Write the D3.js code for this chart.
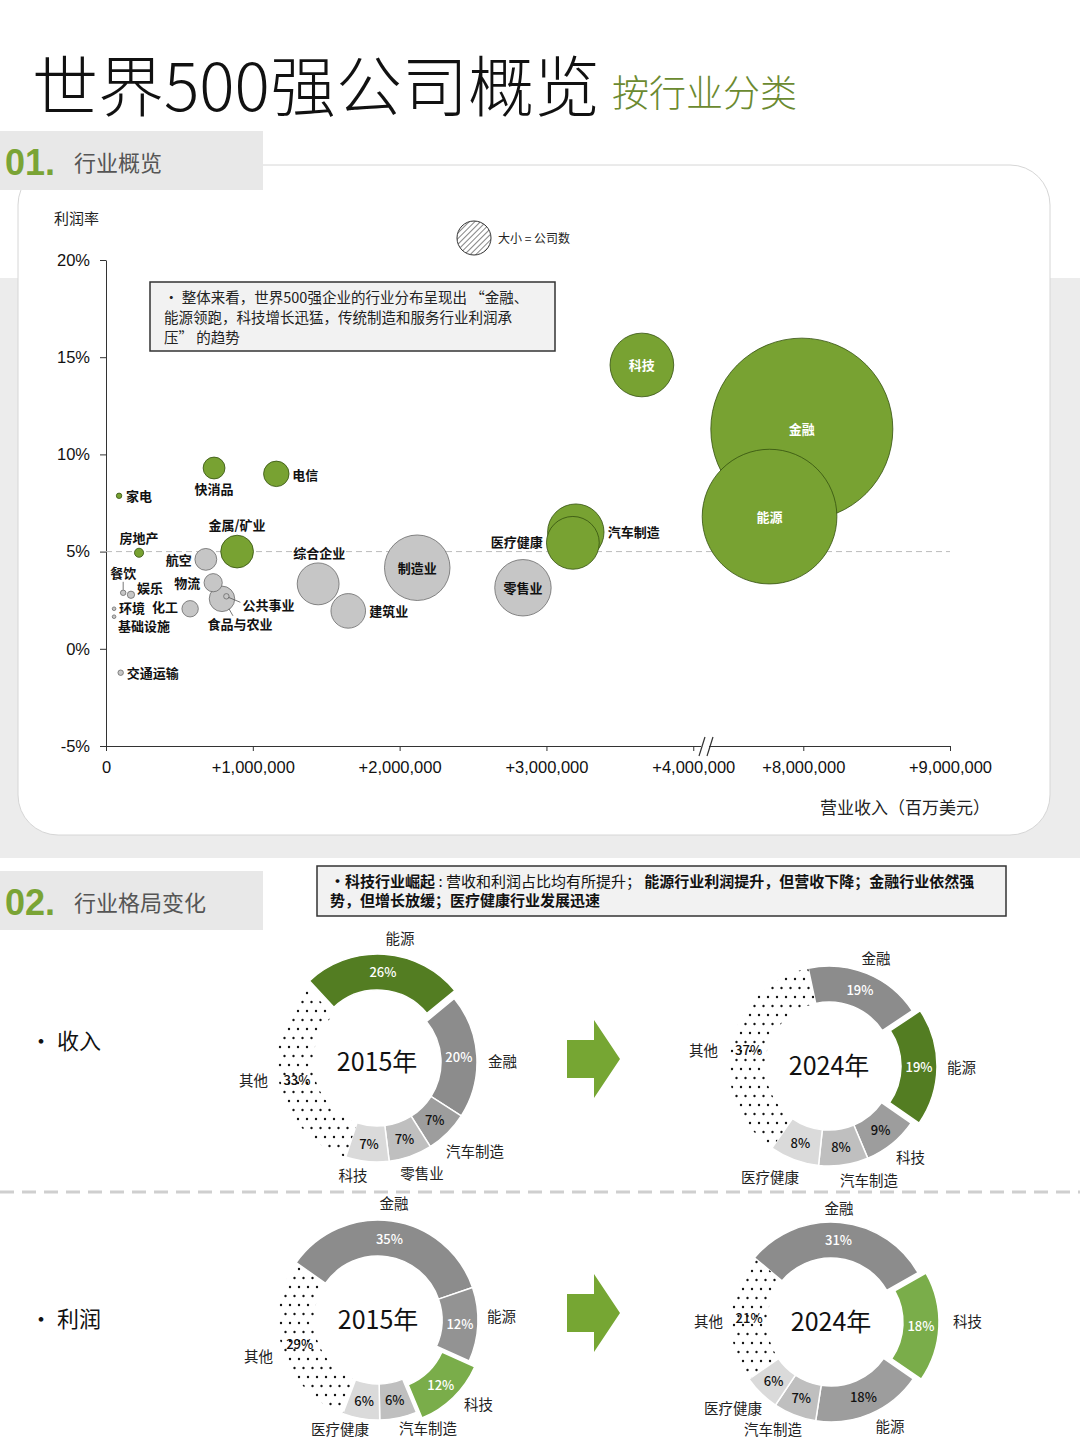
<!DOCTYPE html>
<html>
<head>
<meta charset="utf-8">
<script src="https://cdn.jsdelivr.net/npm/d3@7"></script>
<style>
  body { margin: 0; background: #fff; }
  svg text { font-family: "Noto Sans CJK SC", "Noto Sans", sans-serif; }
</style>
</head>
<body>
<svg id="chart" width="1080" height="1440"></svg>
<script>
// ---- bubble chart data ----
var industries = ["金融", "能源", "科技", "汽车制造", "医疗健康", "零售业", "制造业", "综合企业", "建筑业",
  "金属/矿业", "快消品", "电信", "航空", "物流", "食品与农业", "公共事业", "化工", "房地产", "家电",
  "餐饮", "娱乐", "环境", "基础设施", "交通运输"];
var revenue = [7990000, 7770000, 3650000, 3200000, 3180000, 2840000, 2120000, 1445000, 1650000,
  893000, 736000, 1160000, 680000, 730000, 790000, 820000, 573000, 225000, 89000,
  117000, 170000, 55000, 55000, 100000];
var margin = [11.3, 6.8, 14.6, 6.0, 5.45, 3.14, 4.17, 3.34, 1.95,
  5.0, 9.3, 9.0, 4.6, 3.4, 2.57, 2.7, 2.06, 4.94, 7.87,
  2.88, 2.78, 2.06, 1.65, -1.23];
var companies = [100, 74, 35, 31, 29, 31, 36, 23, 19,
  18, 12, 14, 12, 10, 14, 3, 9, 5, 3,
  3, 4, 2, 2, 3];
var leaders = ["金融", "能源", "科技", "汽车制造", "医疗健康", "金属/矿业", "快消品", "电信", "房地产", "家电"];
var xTicks = [0, 1000000, 2000000, 3000000, 4000000, 8000000, 9000000];
var yTicks = [-5, 0, 5, 10, 15, 20];

// ---- donut data ----
var rev2015Names = ["能源", "金融", "汽车制造", "零售业", "科技", "其他"];
var rev2015Share = [26, 20, 7, 7, 7, 33];
var rev2024Names = ["金融", "能源", "科技", "汽车制造", "医疗健康", "其他"];
var rev2024Share = [19, 19, 9, 8, 8, 37];
var pro2015Names = ["金融", "能源", "科技", "汽车制造", "医疗健康", "其他"];
var pro2015Share = [35, 12, 12, 6, 6, 29];
var pro2024Names = ["金融", "科技", "能源", "汽车制造", "医疗健康", "其他"];
var pro2024Share = [31, 18, 18, 7, 6, 21];

// label placement for bubbles: dx, dy, anchor, colour
var labelSpots = {
  "金融": [0, 5, "middle", "#fff"], "能源": [0, 5, "middle", "#fff"], "科技": [0, 5, "middle", "#fff"],
  "汽车制造": [32, 5, "start"], "医疗健康": [-30, 4, "end"], "零售业": [0, 5, "middle"],
  "制造业": [0, 5, "middle"], "综合企业": [1, -26, "middle"], "建筑业": [21, 5, "start"],
  "金属/矿业": [0, -22, "middle"], "快消品": [0, 26, "middle"], "电信": [16, 6, "start"],
  "航空": [-14, 6, "end"], "物流": [-13, 5, "end"], "食品与农业": [18, 30, "middle"],
  "公共事业": [16, 14, "start"], "化工": [-12, 3, "end"], "房地产": [0, -10, "middle"],
  "家电": [7, 5, "start"], "餐饮": [0, -15, "middle"], "娱乐": [6, -2, "start"],
  "环境": [5, 4, "start"], "基础设施": [4, 14, "start"], "交通运输": [6, 5, "start"]
};

var svg = d3.select("#chart");
var defs = svg.append("defs");

var dots = defs.append("pattern").attr("id", "dots").attr("patternUnits", "userSpaceOnUse")
  .attr("width", 9).attr("height", 18);
dots.append("circle").attr("cx", 2).attr("cy", 3).attr("r", 1.2).attr("fill", "#111");
dots.append("circle").attr("cx", 6.5).attr("cy", 12).attr("r", 1.2).attr("fill", "#111");

var hatch = defs.append("pattern").attr("id", "hatch").attr("patternUnits", "userSpaceOnUse")
  .attr("width", 4).attr("height", 4).attr("patternTransform", "rotate(45)");
hatch.append("rect").attr("width", 4).attr("height", 4).attr("fill", "#fff");
hatch.append("line").attr("x1", 0).attr("y1", 0).attr("x2", 0).attr("y2", 4)
  .attr("stroke", "#333").attr("stroke-width", 1.2);

// ---- background, title, section headers ----
svg.append("rect").attr("x", 0).attr("y", 278).attr("width", 1080).attr("height", 580).attr("fill", "#ececec");
svg.append("rect").attr("x", 18).attr("y", 165).attr("width", 1032).attr("height", 670).attr("rx", 40)
  .attr("fill", "#fff").attr("stroke", "#d6d6d6");

svg.append("text").attr("x", 32).attr("y", 111).style("font-size", "66px").style("font-weight", 300)
  .attr("fill", "#111").text("世界500强公司概览");
svg.append("text").attr("x", 612).attr("y", 107).style("font-size", "37px").style("font-weight", 300)
  .attr("fill", "#6b8a30").text("按行业分类");

function sectionHead(y, num, title) {
  svg.append("rect").attr("x", 0).attr("y", y).attr("width", 263).attr("height", 59).attr("fill", "#e8e8e8");
  svg.append("text").attr("x", 5).attr("y", y + 44)
    .style("font-family", "'Liberation Sans Narrow', 'Liberation Sans', sans-serif")
    .style("font-size", "36px").style("font-weight", 700).attr("fill", "#7aa435").text(num);
  svg.append("text").attr("x", 74).attr("y", y + 40).style("font-size", "22px")
    .attr("fill", "#555").text(title);
}
sectionHead(131, "01.", "行业概览");
sectionHead(871, "02.", "行业格局变化");

// ---- bubble chart ----
var x = d3.scaleLinear().domain([0, 4080000, 7330000, 9000000]).range([106, 705, 705, 950]);
var y = d3.scaleLinear().domain([-5, 20]).range([746, 260]);
var r = d3.scaleLinear().domain([0, 100]).range([0, 91]);

var xAxis = svg.append("g").attr("transform", "translate(0,746)")
  .call(d3.axisBottom(x).tickValues(xTicks).tickSize(5).tickSizeOuter(0).tickPadding(10)
    .tickFormat(function(d) { return d === 0 ? "0" : "+" + d3.format(",")(d); }));
var yAxis = svg.append("g").attr("transform", "translate(106,0)")
  .call(d3.axisLeft(y).tickValues(yTicks).tickSize(6).tickSizeOuter(0).tickPadding(10)
    .tickFormat(function(d) { return d + "%"; }));
[xAxis, yAxis].forEach(function(a) {
  a.selectAll("path, line").attr("stroke", "#333");
  a.selectAll("text").style("font-family", "'Liberation Sans', Arial, sans-serif")
    .style("font-size", "16.5px").attr("fill", "#111");
});

// axis break
svg.append("rect").attr("x", 701).attr("y", 742).attr("width", 8).attr("height", 8).attr("fill", "#fff");
[699, 707].forEach(function(bx) {
  svg.append("line").attr("x1", bx).attr("y1", 756).attr("x2", bx + 6).attr("y2", 737)
    .attr("stroke", "#333").attr("stroke-width", 1.2);
});

// 5% reference line
svg.append("line").attr("x1", 106).attr("x2", 950).attr("y1", y(5)).attr("y2", y(5))
  .attr("stroke", "#bbb").attr("stroke-dasharray", "6,4");

svg.append("text").attr("x", 54).attr("y", 224).style("font-size", "15px").attr("fill", "#222").text("利润率");
svg.append("text").attr("x", 990).attr("y", 814).attr("text-anchor", "end").style("font-size", "17px")
  .attr("fill", "#222").text("营业收入（百万美元）");

svg.append("circle").attr("cx", 474).attr("cy", 238).attr("r", 17).attr("fill", "url(#hatch)")
  .attr("stroke", "#333").attr("stroke-width", 1);
svg.append("text").attr("x", 498).attr("y", 243).style("font-size", "12px").attr("fill", "#222")
  .text("大小 = 公司数");

// note box
svg.append("rect").attr("x", 150).attr("y", 282).attr("width", 405).attr("height", 69)
  .attr("fill", "#f2f2f2").attr("stroke", "#333").attr("stroke-width", 1.5);
["• 整体来看，世界500强企业的行业分布呈现出 “金融、", "能源领跑，科技增长迅猛，传统制造和服务行业利润承", "压” 的趋势"]
  .forEach(function(t, i) {
    svg.append("text").attr("x", 164).attr("y", 303 + i * 20).style("font-size", "14.5px")
      .attr("fill", "#222").text(t);
  });

var bubbles = industries.map(function(n, i) {
  return { name: n, rev: revenue[i], m: margin[i], c: companies[i], lead: leaders.indexOf(n) >= 0 };
}).sort(function(a, b) { return b.c - a.c; });

svg.append("g").selectAll("circle").data(bubbles).enter().append("circle")
  .attr("cx", function(d) { return x(d.rev); })
  .attr("cy", function(d) { return y(d.m); })
  .attr("r", function(d) { return r(d.c); })
  .attr("fill", function(d) { return d.lead ? "#78a232" : "#c6c6c6"; })
  .attr("stroke", function(d) { return d.lead ? "#34500f" : "#6a6a6a"; })
  .attr("stroke-width", 0.8);

// leader lines for small bubbles
function leader(name, x1, y1, x2, y2) {
  var i = industries.indexOf(name);
  var cx = x(revenue[i]), cy = y(margin[i]);
  svg.append("line").attr("x1", cx + x1).attr("y1", cy + y1).attr("x2", cx + x2).attr("y2", cy + y2)
    .attr("stroke", "#555").attr("stroke-width", 0.8);
}
leader("餐饮", 0, -11, 0, -3);
leader("公共事业", 2, 1, 14, 6);
leader("食品与农业", 7, 10, 11, 17);

svg.append("g").selectAll("text").data(bubbles).enter().append("text")
  .attr("x", function(d) { return x(d.rev) + labelSpots[d.name][0]; })
  .attr("y", function(d) { return y(d.m) + labelSpots[d.name][1]; })
  .attr("text-anchor", function(d) { return labelSpots[d.name][2]; })
  .attr("fill", function(d) { return labelSpots[d.name][3] || "#111"; })
  .style("font-size", "13px").style("font-weight", 700)
  .text(function(d) { return d.name; });

// ---- section 02 ----
var note2 = svg.append("g");
note2.append("rect").attr("x", 317).attr("y", 866).attr("width", 689).attr("height", 50)
  .attr("fill", "#f2f2f2").attr("stroke", "#333").attr("stroke-width", 1.5);
var t1 = note2.append("text").attr("x", 330).attr("y", 887).style("font-size", "15px").attr("fill", "#111");
t1.append("tspan").style("font-weight", 700).text("•科技行业崛起");
t1.append("tspan").text(" : 营收和利润占比均有所提升； ");
t1.append("tspan").style("font-weight", 700).text("能源行业利润提升，但营收下降；金融行业依然强");
note2.append("text").attr("x", 330).attr("y", 906).style("font-size", "15px").style("font-weight", 700)
  .attr("fill", "#111").text("势，但增长放缓；医疗健康行业发展迅速");

svg.append("text").attr("x", 30).attr("y", 1049).style("font-size", "22px").attr("fill", "#111").text("• 收入");
svg.append("text").attr("x", 30).attr("y", 1327).style("font-size", "22px").attr("fill", "#111").text("• 利润");

svg.append("line").attr("x1", 0).attr("x2", 1080).attr("y1", 1192).attr("y2", 1192)
  .attr("stroke", "#cfcfcf").attr("stroke-width", 3).attr("stroke-dasharray", "14,8");

// arrows
[1059, 1313].forEach(function(ay) {
  svg.append("path")
    .attr("d", "M567," + (ay - 19) + "H594V" + (ay - 39) + "L620," + ay + "L594," + (ay + 39) + "V" + (ay + 19) + "H567Z")
    .attr("fill", "#76a633");
});

function drawDonut(cfg) {
  var g = svg.append("g").attr("transform", "translate(" + cfg.cx + "," + cfg.cy + ")");
  var a0 = cfg.start * Math.PI / 180;
  var pie = d3.pie().sort(null).value(function(d) { return d.v; })
    .startAngle(a0).endAngle(a0 + 2 * Math.PI);
  var rows = cfg.names.map(function(n, i) { return { name: n, v: cfg.values[i], fill: cfg.fills[i] }; });
  var arcs = pie(rows);
  var arc = d3.arc().innerRadius(64).outerRadius(100);
  var midArc = d3.arc().innerRadius(82).outerRadius(82);

  arcs.forEach(function(a, i) {
    var mid = (a.startAngle + a.endAngle) / 2;
    var off = a.data.name === cfg.explode ? 8 : 0;
    var dx = off * Math.sin(mid), dy = -off * Math.cos(mid);
    var isOther = a.data.name === "其他";
    g.append("path").attr("d", arc(a)).attr("transform", "translate(" + dx + "," + dy + ")")
      .attr("fill", isOther ? "url(#dots)" : a.data.fill)
      .attr("stroke", isOther ? "none" : "#fff").attr("stroke-width", 1.5);
    var c = midArc.centroid(a);
    g.append("text").attr("x", c[0] + dx).attr("y", c[1] + dy + 5).attr("text-anchor", "middle")
      .style("font-size", "13px").style("font-weight", 500)
      .attr("fill", cfg.whiteText.indexOf(a.data.name) >= 0 ? "#fff" : "#111")
      .text(a.data.v + "%");
    var spot = cfg.spots[i];
    g.append("text").attr("x", spot[0]).attr("y", spot[1])
      .attr("text-anchor", { m: "middle", s: "start", e: "end" }[spot[2]])
      .style("font-size", "14.5px").attr("fill", "#222").text(a.data.name);
  });
  g.append("text").attr("x", 0).attr("y", 9).attr("text-anchor", "middle").style("font-size", "25px")
    .attr("fill", "#111").text(cfg.year);
}

drawDonut({ cx: 377, cy: 1062, start: -43, year: "2015年", names: rev2015Names, values: rev2015Share,
  fills: ["#537d22", "#8c8c8c", "#9d9d9d", "#bfbfbf", "#dadada", null], explode: "能源", whiteText: ["能源", "金融"],
  spots: [[23, -118, "m"], [111, 5, "s"], [69, 95, "s"], [45, 117, "m"], [-24, 119, "m"], [-109, 24, "e"]] });
drawDonut({ cx: 829, cy: 1066, start: -12, year: "2024年", names: rev2024Names, values: rev2024Share,
  fills: ["#8c8c8c", "#537d22", "#9d9d9d", "#bfbfbf", "#dadada", null], explode: "能源", whiteText: ["金融", "能源"],
  spots: [[47, -102, "m"], [118, 7, "s"], [67, 97, "s"], [40, 120, "m"], [-59, 117, "m"], [-111, -10, "e"]] });
drawDonut({ cx: 378, cy: 1320, start: -55, year: "2015年", names: pro2015Names, values: pro2015Share,
  fills: ["#8c8c8c", "#939393", "#7aad4a", "#bfbfbf", "#dadada", null], explode: "科技", whiteText: ["金融", "能源", "科技"],
  spots: [[16, -111, "m"], [109, 2, "s"], [86, 90, "s"], [50, 114, "m"], [-38, 115, "m"], [-105, 42, "e"]] });
drawDonut({ cx: 831, cy: 1322, start: -50, year: "2024年", names: pro2024Names, values: pro2024Share,
  fills: ["#8c8c8c", "#7aad4a", "#9d9d9d", "#bfbfbf", "#dadada", null], explode: "科技", whiteText: ["金融", "科技"],
  spots: [[8, -108, "m"], [122, 5, "s"], [59, 110, "m"], [-58, 113, "m"], [-98, 92, "m"], [-108, 5, "e"]] });
</script>
</body>
</html>
